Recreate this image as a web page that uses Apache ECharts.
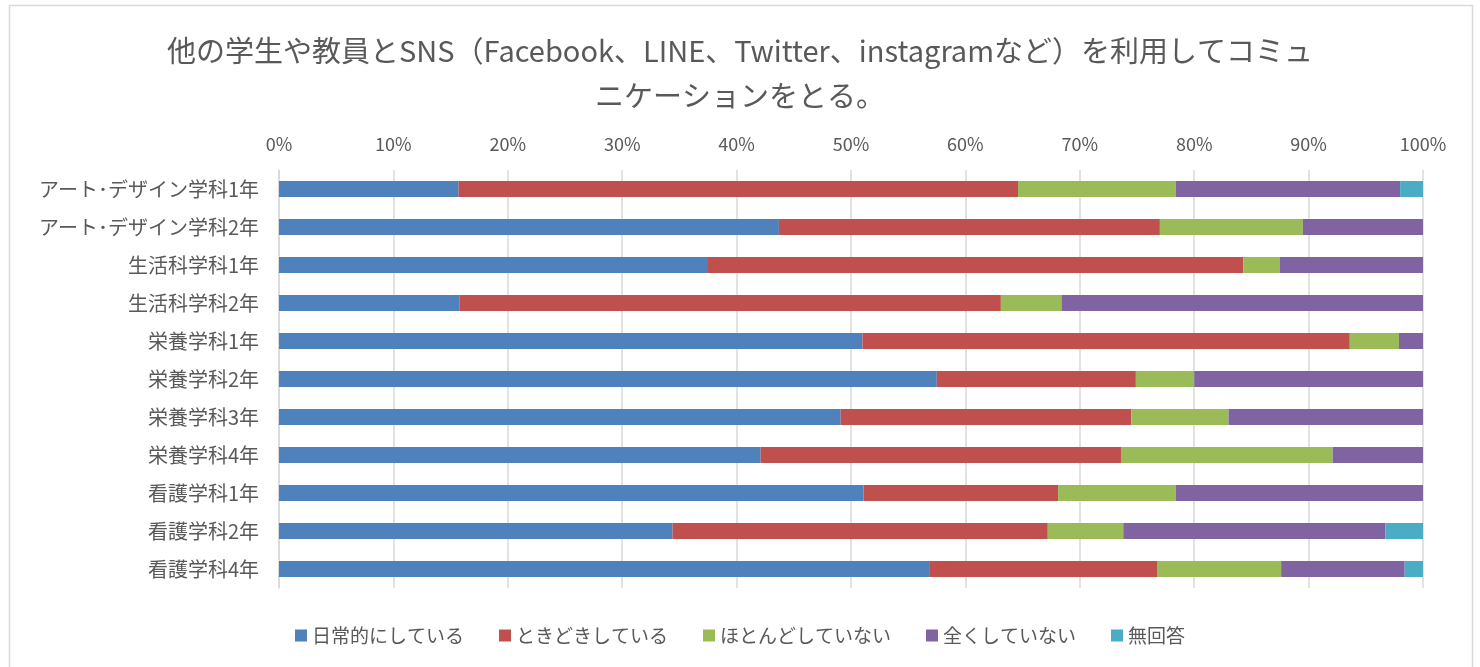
<!DOCTYPE html>
<html><head><meta charset="utf-8">
<script src="https://cdn.jsdelivr.net/npm/echarts@6/dist/echarts.min.js"></script>
<style>html,body{margin:0;padding:0;background:#fff}#c{width:1480px;height:667px}</style>
</head><body><div id="c"></div>
<script>
const categories = ['アート･デザイン学科1年','アート･デザイン学科2年','生活科学科1年','生活科学科2年','栄養学科1年','栄養学科2年','栄養学科3年','栄養学科4年','看護学科1年','看護学科2年','看護学科4年'];
const seriesNames = ['日常的にしている','ときどきしている','ほとんどしていない','全くしていない','無回答'];
const daily     = [15.7, 43.7, 37.5, 15.8, 51.0, 57.5, 49.1, 42.1, 51.1, 34.4, 56.9];
const sometimes = [48.9, 33.3, 46.8, 47.3, 42.6, 17.4, 25.4, 31.5, 17.0, 32.8, 19.9];
const rarely    = [13.8, 12.5,  3.2,  5.3,  4.3,  5.1,  8.5, 18.5, 10.3,  6.6, 10.8];
const never     = [19.6, 10.5, 12.5, 31.6,  2.1, 20.0, 17.0,  7.9, 21.6, 22.9, 10.8];
const noAnswer  = [ 2.0,  0,    0,    0,    0,    0,    0,    0,    0,    3.3,  1.6];
const colors = ['#4f81bd','#c0504d','#9bbb59','#8064a2','#4bacc6'];
const values = [daily, sometimes, rarely, never, noAnswer];

const chart = echarts.init(document.getElementById('c'));
const font = '"Noto Sans CJK JP", "Noto Sans", sans-serif';
chart.setOption({
  backgroundColor: '#fff',
  animation: false,
  graphic: [{
    type: 'rect', silent: true, z: -1,
    shape: {x: 9.5, y: 5.5, width: 1463, height: 680},
    style: {fill: 'none', stroke: '#d9d9d9', lineWidth: 1.5}
  }],
  title: {
    text: '他の学生や教員とSNS（Facebook、LINE、Twitter、instagramなど）を利用してコミュ\nニケーションをとる。',
    left: 'center', top: 23,
    textStyle: {fontFamily: font, fontSize: 29, fontWeight: 'normal', color: '#595959', lineHeight: 45}
  },
  legend: {
    bottom: 17, left: 'center', itemWidth: 12, itemHeight: 12, itemGap: 35, icon: 'rect',
    textStyle: {fontFamily: font, fontSize: 19, color: '#595959'},
    data: seriesNames
  },
  grid: {left: 279, right: 57, top: 170, bottom: 79},
  xAxis: {
    type: 'value', position: 'top', min: 0, max: 100, interval: 10,
    axisLabel: {formatter: '{value}%', fontFamily: font, fontSize: 18, color: '#595959', margin: 17},
    axisLine: {show: false}, axisTick: {show: false},
    splitLine: {lineStyle: {color: '#d9d9d9', width: 1.5}}
  },
  yAxis: {
    type: 'category', data: categories, inverse: true,
    axisLabel: {fontFamily: font, fontSize: 20, color: '#595959', margin: 20},
    axisTick: {show: false},
    axisLine: {lineStyle: {color: '#d9d9d9', width: 1.5}}
  },
  series: seriesNames.map((n, i) => ({
    name: n, type: 'bar', stack: 'all', data: values[i], barWidth: 16,
    itemStyle: {color: colors[i]}
  }))
});
</script></body></html>
